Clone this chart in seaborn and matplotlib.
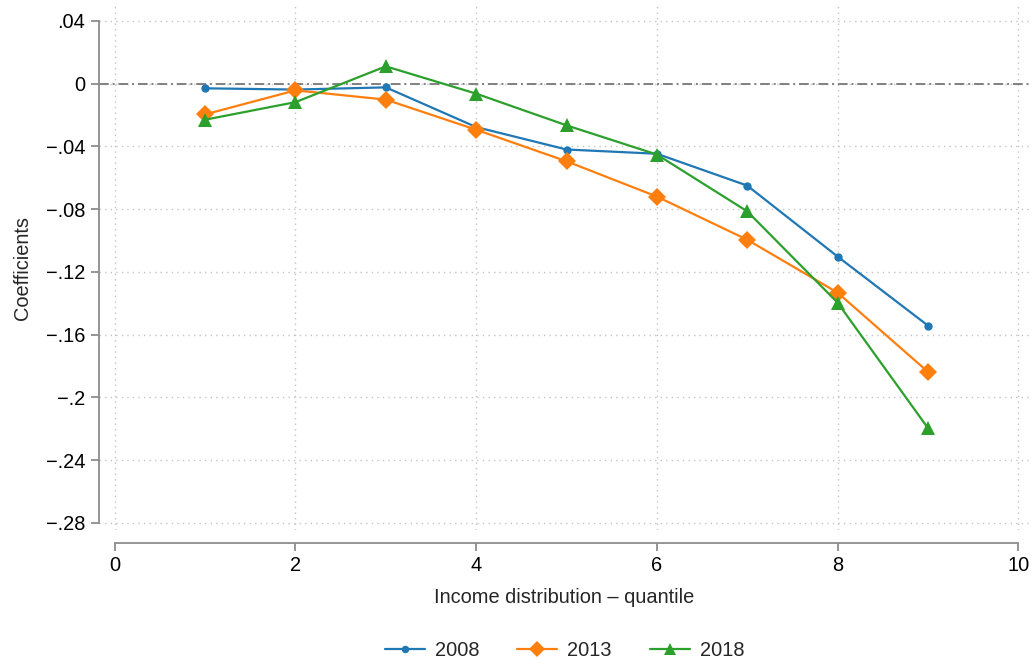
import numpy as np
import pandas as pd
import matplotlib
matplotlib.use("Agg")
import matplotlib.pyplot as plt
import seaborn as sns
from matplotlib.lines import Line2D

quantiles = [1, 2, 3, 4, 5, 6, 7, 8, 9]
coef_2008 = [-0.0030, -0.0038, -0.0024, -0.0277, -0.0420, -0.0447, -0.0650, -0.1102, -0.1542]
coef_2013 = [-0.0196, -0.0043, -0.0102, -0.0294, -0.0495, -0.0720, -0.0995, -0.1332, -0.1837]
coef_2018 = [-0.0230, -0.0118, 0.0110, -0.0064, -0.0266, -0.0452, -0.0814, -0.1396, -0.2195]
years = ["2008", "2013", "2018"]
yticks = [0.04, 0.0, -0.04, -0.08, -0.12, -0.16, -0.20, -0.24, -0.28]
ytick_labels = [".04", "0", "\u2212.04", "\u2212.08", "\u2212.12", "\u2212.16", "\u2212.2", "\u2212.24", "\u2212.28"]
xticks = [0, 2, 4, 6, 8, 10]

df = pd.DataFrame({
    "quantile": quantiles * 3,
    "coef": coef_2008 + coef_2013 + coef_2018,
    "year": [y for y in years for _ in quantiles],
})

sns.set_theme(style="white")
plt.rcParams["font.family"] = ["Liberation Sans", "DejaVu Sans"]

FS = 14.4
W, H = 1033, 664
fig = plt.figure(figsize=(W / 100, H / 100), dpi=100)
ax = fig.add_axes([99 / W, (H - 530) / H, (1030 - 99) / W, (530 - 5) / H])

palette = {"2008": "#1f77b4", "2013": "#ff7f0e", "2018": "#2ca02c"}
markers = {"2008": "o", "2013": "D", "2018": "^"}
sns.lineplot(data=df, x="quantile", y="coef", hue="year", style="year",
             palette=palette, markers=markers, dashes=False, ax=ax,
             linewidth=1.6, markeredgewidth=0, legend=False)
sizes = {"2008": 6.0, "2013": 9.5, "2018": 9.5}
for line, y in zip(ax.lines, years):
    line.set_markersize(sizes[y])

ax.axhline(0, color="#808080", lw=1.4, linestyle=(0, (5, 2, 1, 2)), zorder=1)

ax.set_xlim(-0.175, 10.13)
ax.set_ylim(-0.2845, 0.0501)
ax.set_xticks(xticks)
ax.set_xticklabels([str(t) for t in xticks])
ax.set_yticks(yticks)
ax.set_yticklabels(ytick_labels)
ax.grid(True, color="#c4c4c4", linestyle=(0, (1, 3)), linewidth=1.0)
ax.set_axisbelow(True)

for s in ["top", "right"]:
    ax.spines[s].set_visible(False)
ax.spines["left"].set_bounds(-0.28, 0.04)
ax.spines["bottom"].set_bounds(0, 10)
ax.spines["bottom"].set_position(("outward", 9))
for s in ["left", "bottom"]:
    ax.spines[s].set_color("#8c8c8c")
    ax.spines[s].set_linewidth(1.3)
ax.tick_params(axis="both", which="major", length=6, width=1.3, color="#8c8c8c",
               labelsize=FS, labelcolor="black", direction="out", pad=4, bottom=True, left=True)

ax.set_xlabel("Income distribution \u2013 quantile", fontsize=FS, labelpad=9)
ax.set_ylabel("Coefficients", fontsize=FS, labelpad=10)

handles = [Line2D([0], [0], color=palette[y], marker=markers[y], markersize=sizes[y] * 0.9,
                  markeredgewidth=0, lw=1.6) for y in years]
fig.legend(handles, years, loc="center", bbox_to_anchor=(564.5 / W, 14 / H), ncol=3,
           frameon=False, fontsize=FS, handlelength=2.0, columnspacing=1.9, handletextpad=0.5)

fig.savefig("out.png", dpi=100)
